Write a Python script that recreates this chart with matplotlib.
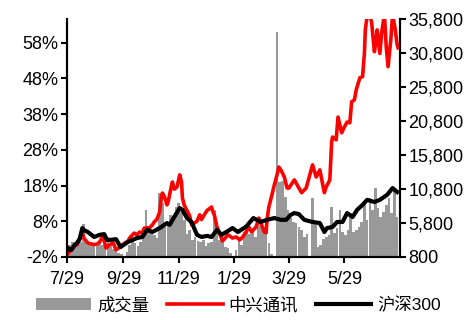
import pandas as pd
import numpy as np
import matplotlib
matplotlib.use("Agg")
import matplotlib.pyplot as plt
import matplotlib.dates as mdates
from matplotlib.ticker import FuncFormatter

plt.rcParams['font.family'] = ['Liberation Sans', 'Noto Sans CJK SC', 'DejaVu Sans']

# 中兴通讯 cumulative change (%)
red_dates = ["2019-07-29", "2019-08-01", "2019-08-03", "2019-08-06", "2019-08-09", "2019-08-12",
             "2019-08-15", "2019-08-17", "2019-08-21", "2019-08-25", "2019-08-28", "2019-08-31",
             "2019-09-03", "2019-09-06", "2019-09-08", "2019-09-10", "2019-09-13", "2019-09-15",
             "2019-09-18", "2019-09-21", "2019-09-24", "2019-09-26", "2019-09-30", "2019-10-04",
             "2019-10-06", "2019-10-11", "2019-10-14", "2019-10-17", "2019-10-20", "2019-10-22",
             "2019-10-28", "2019-10-31", "2019-11-02", "2019-11-05", "2019-11-08", "2019-11-10",
             "2019-11-11", "2019-11-13", "2019-11-16", "2019-11-17", "2019-11-20", "2019-11-22",
             "2019-11-24", "2019-11-27", "2019-11-30", "2019-12-02", "2019-12-03", "2019-12-05",
             "2019-12-08", "2019-12-11", "2019-12-13", "2019-12-16", "2019-12-19", "2019-12-22",
             "2019-12-24", "2019-12-27", "2019-12-30", "2020-01-04", "2020-01-05", "2020-01-07",
             "2020-01-10", "2020-01-13", "2020-01-16", "2020-01-18", "2020-01-22", "2020-01-27",
             "2020-01-31", "2020-02-04", "2020-02-07", "2020-02-11", "2020-02-14", "2020-02-17",
             "2020-02-19", "2020-02-22", "2020-02-25", "2020-02-28", "2020-03-02", "2020-03-04",
             "2020-03-05", "2020-03-07", "2020-03-10", "2020-03-13", "2020-03-16", "2020-03-18",
             "2020-03-21", "2020-03-24", "2020-03-27", "2020-03-29", "2020-04-04", "2020-04-12",
             "2020-04-17", "2020-04-24", "2020-04-28", "2020-05-02", "2020-05-07", "2020-05-09",
             "2020-05-13", "2020-05-15", "2020-05-16", "2020-05-20", "2020-05-22", "2020-05-26",
             "2020-05-29", "2020-06-01", "2020-06-04", "2020-06-06", "2020-06-09", "2020-06-11",
             "2020-06-15", "2020-06-18", "2020-06-20", "2020-06-21", "2020-06-23", "2020-06-26",
             "2020-06-28", "2020-07-01", "2020-07-03", "2020-07-04", "2020-07-07", "2020-07-09",
             "2020-07-12", "2020-07-14", "2020-07-16", "2020-07-19", "2020-07-21", "2020-07-24",
             "2020-07-26", "2020-07-27"]
red_vals = [-1.4, -0.5, 0.0, 1.0, 1.4, 3.0,
            4.8, 3.2, 1.9, 1.6, 1.5, 1.6,
            2.2, 3.6, 2.5, 0.5, 1.2, 1.6,
            1.9, 0.0, 0.5, 0.8, 1.8, 2.4,
            3.3, 4.7, 4.2, 5.0, 4.6, 6.1,
            6.2, 7.0, 7.8, 8.6, 10.6, 15.1,
            15.9, 15.0, 12.6, 13.1, 16.8, 19.0,
            17.0, 17.6, 21.0, 19.0, 14.5, 12.5,
            11.0, 9.5, 7.0, 7.5, 8.0, 9.8,
            8.5, 9.8, 11.0, 12.0, 11.0, 9.8,
            6.4, 4.5, 2.5, 3.0, 4.2, 3.3,
            3.6, 2.8, 3.5, 5.0, 6.4, 5.0,
            5.6, 6.4, 8.9, 7.0, 5.0, 4.8,
            8.4, 12.0, 15.0, 18.2, 21.0, 23.2,
            22.0, 20.4, 17.3, 17.3, 19.6, 16.0,
            17.3, 23.8, 20.4, 22.4, 16.0, 17.6,
            19.6, 30.2, 31.6, 30.8, 37.2, 32.8,
            34.4, 35.8, 35.6, 41.5, 42.0, 44.8,
            48.2, 48.5, 55.0, 61.6, 65.5, 66.0,
            63.6, 55.5, 58.8, 61.6, 55.0, 60.8,
            66.0, 56.9, 51.3, 58.8, 66.0, 61.6,
            57.4, 56.6]

# 沪深300 cumulative change (%)
hs_dates = ["2019-07-29", "2019-08-01", "2019-08-03", "2019-08-06", "2019-08-09", "2019-08-12",
            "2019-08-15", "2019-08-17", "2019-08-21", "2019-08-25", "2019-08-28", "2019-09-03",
            "2019-09-08", "2019-09-11", "2019-09-16", "2019-09-21", "2019-09-26", "2019-10-04",
            "2019-10-14", "2019-10-20", "2019-10-25", "2019-10-31", "2019-11-08", "2019-11-16",
            "2019-11-19", "2019-11-24", "2019-11-30", "2019-12-03", "2019-12-08", "2019-12-13",
            "2019-12-19", "2019-12-24", "2019-12-30", "2020-01-04", "2020-01-10", "2020-01-15",
            "2020-01-24", "2020-01-27", "2020-02-02", "2020-02-11", "2020-02-19", "2020-02-27",
            "2020-03-05", "2020-03-13", "2020-03-20", "2020-03-26", "2020-03-31", "2020-04-04",
            "2020-04-09", "2020-04-15", "2020-04-24", "2020-05-02", "2020-05-07", "2020-05-10",
            "2020-05-16", "2020-05-21", "2020-05-27", "2020-06-01", "2020-06-07", "2020-06-12",
            "2020-06-18", "2020-06-23", "2020-07-01", "2020-07-07", "2020-07-15", "2020-07-21",
            "2020-07-26"]
hs_vals = [0.8, 0.0, 0.0, 1.2, 1.9, 3.0,
           6.1, 5.5, 5.0, 4.2, 3.6, 4.2,
           4.4, 2.8, 2.8, 3.0, 0.8, 2.2,
           3.3, 3.6, 5.6, 5.0, 6.1, 7.5,
           7.0, 9.2, 11.7, 11.2, 8.9, 7.8,
           4.2, 3.6, 3.9, 3.6, 5.6, 4.2,
           5.6, 6.1, 5.0, 6.5, 8.9, 7.8,
           8.4, 8.9, 8.4, 8.4, 9.8, 10.3,
           10.0, 8.4, 7.8, 7.5, 5.0, 6.1,
           6.4, 7.8, 7.8, 10.3, 9.2, 11.2,
           12.6, 14.0, 13.4, 14.0, 15.4, 17.3,
           16.2]

# 成交量, one bar every three days from 2019-07-29
vol_start = "2019-07-29"
vol_vals = [1800, 2600, 3000, 2800, 3200, 3000, 5600, 3200, 2600, 2400,
            2800, 2400, 3000, 2600, 4000, 3800, 2400, 2000, 2200, 1400,
            1200, 900, 1500, 2600, 3300, 2800, 2400, 3000, 4200, 7700,
            4800, 4500, 4000, 3600, 10200, 8700, 6000, 5600, 7000, 6200,
            8200, 8700, 7400, 6200, 4200, 4800, 3300, 3700, 3200, 3000,
            3300, 2400, 2800, 3000, 7700, 6000, 3300, 3000, 2200, 2100,
            1400, 900, 1800, 3700, 2600, 4500, 5200, 4200, 4500, 3800,
            5800, 5400, 5200, 4600, 2900, 1200, 0, 33900, 11800, 12000,
            9600, 7700, 6500, 5900, 5800, 5200, 4800, 3700, 4200, 0,
            9500, 6000, 2300, 2600, 3400, 3800, 4000, 8200, 4300, 5000,
            7700, 4400, 4000, 4800, 7300, 4500, 4800, 5200, 6000, 8700,
            6200, 9500, 7700, 10900, 8000, 6700, 7400, 8400, 9500, 7300,
            10900, 6700]

tick_dates = ["2019-07-29", "2019-09-29", "2019-11-29", "2020-01-29", "2020-03-29", "2020-05-29"]

red_x = pd.to_datetime(red_dates)
hs_x = pd.to_datetime(hs_dates)
vol_x = pd.date_range(vol_start, periods=len(vol_vals), freq="3D")
ticks = pd.to_datetime(tick_dates)

fig = plt.figure(figsize=(4.71, 3.20), dpi=100)
ax = fig.add_axes([0.142, 0.197, 0.707, 0.744])
ax2 = ax.twinx()

# volume on the right axis, drawn underneath the lines
ax2.bar(vol_x, vol_vals, width=2.9, color="#999999", linewidth=0, label="成交量", align="center")
ax2.set_ylim(800, 35800)
ax2.set_yticks(np.arange(800, 35801, 5000))
ax2.yaxis.set_major_formatter(FuncFormatter(lambda v, p: f"{int(v):,}"))

ax.plot(red_x, red_vals, color="#ff0000", lw=2.6, label="中兴通讯", solid_joinstyle="round")
ax.plot(hs_x, hs_vals, color="black", lw=3.0, label="沪深300", solid_joinstyle="round")
ax.set_ylim(-2, 64.7)
ax.set_yticks(np.arange(-2, 59, 10))
ax.yaxis.set_major_formatter(FuncFormatter(lambda v, p: f"{int(round(v))}%"))

ax.set_zorder(ax2.get_zorder() + 1)
ax.patch.set_visible(False)

ax.set_xlim(pd.Timestamp("2019-07-29"), pd.Timestamp("2020-07-29"))
ax.set_xticks(ticks)
ax.set_xticklabels([f"{d.month}/{d.day}" for d in ticks])

for a in (ax, ax2):
    a.spines["top"].set_visible(False)
    for s in ("left", "right", "bottom"):
        a.spines[s].set_linewidth(1.5)
    a.tick_params(axis="both", direction="out", length=4, width=1.5, labelsize=13, colors="black")
ax.tick_params(axis="x", pad=6)
ax.tick_params(axis="y", pad=2)
ax2.tick_params(axis="y", pad=2)

h1, l1 = ax2.get_legend_handles_labels()
h2, l2 = ax.get_legend_handles_labels()
fig.legend(h1 + h2, l1 + l2, loc="center", bbox_to_anchor=(0.506, 0.047), ncol=3,
           frameon=False, fontsize=12.5, handlelength=3.2, handletextpad=0.35,
           columnspacing=1.0, borderaxespad=0)

fig.savefig("out.png", dpi=100)
